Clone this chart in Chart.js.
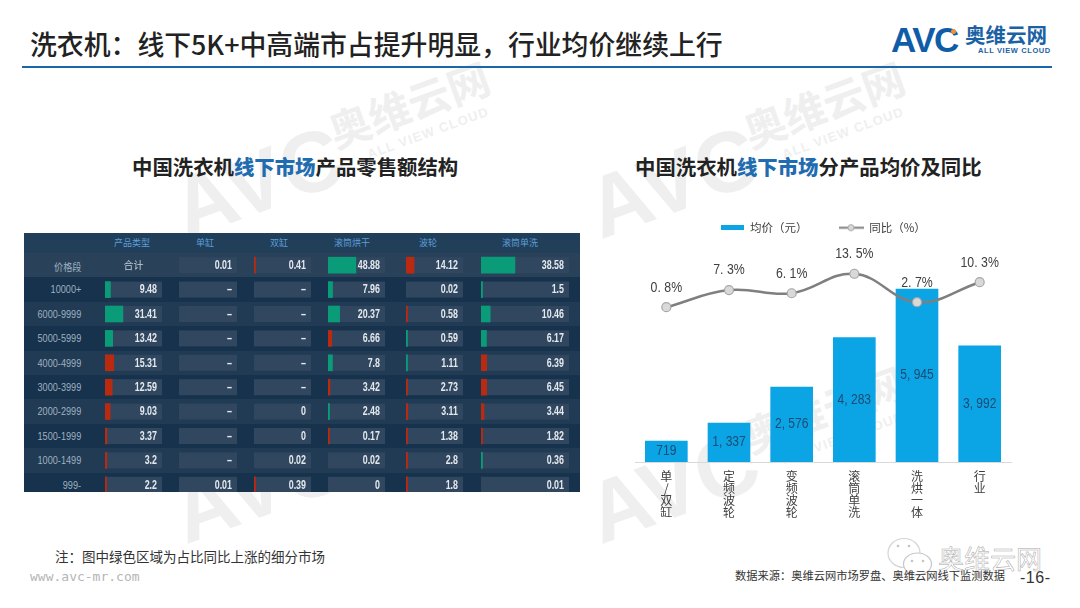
<!DOCTYPE html>
<html>
<head>
<meta charset="utf-8">
<script src="https://cdn.jsdelivr.net/npm/chart.js@4"></script>
<style>
    html, body { margin: 0; padding: 0; background: #fff; }
    body { width: 1080px; height: 608px; position: relative; overflow: hidden; font-family: "Noto Sans CJK SC", sans-serif; color: #222; }
    .abs { position: absolute; white-space: nowrap; line-height: 1; }
    .wm { position: absolute; width: 0; height: 0; transform: rotate(-20deg); transform-origin: 0 0; color: #efefef; }
    .wm div { position: absolute; white-space: nowrap; line-height: 1; }
    #table { position: absolute; left: 24px; top: 233px; width: 556px; height: 259px; overflow: hidden; background: #1b3650; filter: blur(0.35px); }
    #table canvas { position: absolute; }
    #right-chart { position: absolute; left: 620px; top: 190px; }
    b.blue { color: #1f6cb0; }
</style>
</head>
<body>
<div id="marks"></div>

<div class="abs" style="left:30px;top:31px;font-size:26.85px;font-weight:500;">洗衣机：线下5K+中高端市占提升明显，行业均价继续上行</div>
<div class="abs" style="left:22px;top:65.5px;width:1030px;height:2.5px;background:#1a66a8;"></div>

<!-- logo -->
<div class="abs" style="left:891px;top:20px;font:bold 35px 'Liberation Sans';letter-spacing:-1.5px;color:#0f5ca8;">AVC</div>
<div class="abs" style="left:951px;top:29px;width:5px;height:5px;border-radius:50%;background:#f0913a;"></div>
<div class="abs" style="left:965px;top:24px;font-size:20.5px;font-weight:700;color:#1b62a5;">奥维云网</div>
<div class="abs" style="left:978px;top:46px;font:bold 7.5px 'Liberation Sans';letter-spacing:0.6px;color:#1b62a5;">ALL VIEW CLOUD</div>

<div class="abs" style="left:132px;top:156px;font-size:20.4px;font-weight:700;">中国洗衣机<b class="blue">线下市场</b>产品零售额结构</div>
<div class="abs" style="left:635px;top:156px;font-size:20.4px;font-weight:700;">中国洗衣机<b class="blue">线下市场</b>分产品均价及同比</div>

<div id="table"></div>
<canvas id="right-chart" width="444" height="334"></canvas>

<div class="abs" style="left:55px;top:550px;font-size:13.5px;color:#333;">注：图中绿色区域为占比同比上涨的细分市场</div>
<div class="abs" style="left:30px;top:569px;font:13px 'DejaVu Sans Mono';color:#b5b5b5;">www.avc-mr.com</div>

<!-- wechat stamp -->
<svg class="abs" style="left:885px;top:535px;" width="52" height="44">
    <ellipse cx="19" cy="18" rx="16" ry="14.5" fill="#fff" stroke="#d4d4d4" stroke-width="1.2"/>
    <ellipse cx="32.5" cy="29" rx="14" ry="11" fill="#fff" stroke="#c8c8c8" stroke-width="1.2"/>
    <circle cx="13" cy="11" r="1.3" fill="#c4c4c4"/><circle cx="24" cy="11" r="1.3" fill="#c4c4c4"/>
    <circle cx="27" cy="26" r="1.3" fill="#c4c4c4"/><circle cx="38" cy="26" r="1.3" fill="#c4c4c4"/>
</svg>
<div class="abs" style="left:938px;top:545px;font-size:26px;color:#fff;-webkit-text-stroke:0.5px #aaa;">奥维云网</div>
<div class="abs" style="left:735px;top:570px;font-size:11.25px;color:#333;">数据来源：奥维云网市场罗盘、奥维云网线下监测数据</div>
<div class="abs" style="left:1020px;top:569px;font:16px 'Liberation Sans';letter-spacing:0.5px;color:#333;">-16-</div>

<script>
// left table
const priceBands = ['价格段', '10000+', '6000-9999', '5000-5999', '4000-4999', '3000-3999', '2000-2999', '1500-1999', '1000-1499', '999-'];
const productTypes = ['产品类型', '单缸', '双缸', '滚筒烘干', '波轮', '滚筒单洗'];

// null = "–" in the table
const totalValues = [null, 9.48, 31.41, 13.42, 15.31, 12.59, 9.03, 3.37, 3.2, 2.2];
const singleTubValues = [0.01, null, null, null, null, null, null, null, null, 0.01];
const twinTubValues = [0.41, null, null, null, null, null, 0, 0, 0.02, 0.39];
const washDryValues = [48.88, 7.96, 20.37, 6.66, 7.8, 3.42, 2.48, 0.17, 0.02, 0];
const pulsatorValues = [14.12, 0.02, 0.58, 0.59, 1.11, 2.73, 3.11, 1.38, 2.8, 1.8];
const drumWashValues = [38.58, 1.5, 10.46, 6.17, 6.39, 6.45, 3.44, 1.82, 0.36, 0.01];

// 1 = share up (green), -1 = share down (red), 0 = no visible bar
const totalTrend = [0, 1, 1, 1, -1, -1, -1, -1, -1, -1];
const singleTubTrend = [0, 0, 0, 0, 0, 0, 0, 0, 0, 0];
const twinTubTrend = [-1, 0, 0, 0, 0, 0, 0, 0, 0, -1];
const washDryTrend = [1, 1, 1, -1, 1, -1, 1, -1, 0, 0];
const pulsatorTrend = [-1, 0, -1, 1, 1, -1, -1, -1, -1, -1];
const drumWashTrend = [1, 1, 1, 1, -1, -1, -1, -1, 1, 0];

// right chart
const categories = [['单', '/', '双', '缸'], ['定', '频', '波', '轮'], ['变', '频', '波', '轮'], ['滚', '筒', '单', '洗'], ['洗', '烘', '一', '体'], ['行', '业']];
const avgPrice = [719, 1337, 2576, 4283, 5945, 3992];
const yoyGrowth = [0.8, 7.3, 6.1, 13.5, 2.7, 10.3];

Chart.defaults.animation = false;
Chart.defaults.responsive = false;

// watermarks, same stamp repeated over the slide
[[185, 226], [600, 226], [185, 531], [600, 531]].forEach(function(pos) {
    let el = document.createElement('div');
    el.className = 'wm';
    el.style.left = pos[0] + 'px';
    el.style.top = pos[1] + 'px';
    el.innerHTML = '<div style="left:-4px;top:-66px;font:bold 86px \'Liberation Sans\';">AVC</div>' +
        '<div style="left:168px;top:-60px;font-size:42px;font-weight:700;">奥维云网</div>' +
        '<div style="left:196px;top:-12px;font:bold 13px \'Liberation Sans\';letter-spacing:1.2px;">ALL VIEW CLOUD</div>';
    document.getElementById('marks').appendChild(el);
});

// table rows
const table = document.getElementById('table');
const headerHeight = 20;
const rowPitch = 24.4;
const headerCenters = [108, 181, 255, 328, 404, 496];

let header = document.createElement('div');
header.style.cssText = 'position:absolute;left:0;top:0;width:556px;height:' + headerHeight + 'px;background:#213f58;';
table.appendChild(header);

productTypes.forEach(function(name, i) {
    let el = document.createElement('div');
    el.className = 'abs';
    el.textContent = name;
    el.style.cssText = 'left:' + headerCenters[i] + 'px;top:5px;transform:translateX(-50%);font-size:9px;color:#5d9edb;';
    table.appendChild(el);
});

priceBands.forEach(function(name, i) {
    let band = document.createElement('div');
    band.style.cssText = 'position:absolute;left:0;width:556px;top:' + (headerHeight + i * rowPitch) + 'px;height:' + rowPitch + 'px;background:' +
        (i === 0 ? '#2a4259' : (i % 2 ? '#17324c' : '#213b54')) + ';';
    table.appendChild(band);

    let label = document.createElement('div');
    label.className = 'abs';
    label.textContent = name;
    label.style.cssText = 'right:' + (556 - 57) + 'px;top:' + (headerHeight + i * rowPitch + 6) + 'px;' +
        "font:10.5px 'Liberation Sans','Noto Sans CJK SC';color:#9fb1c0;transform:scaleX(0.87);transform-origin:100% 50%;";
    table.appendChild(label);
});

// every column is its own small horizontal bar chart, cell is the 0-100 track
const cellPlugin = {
    id: 'cellPlugin',
    beforeDatasetsDraw: function(chart) {
        const ctx = chart.ctx;
        const area = chart.chartArea;
        chart.data.labels.forEach(function(label, i) {
            if (chart.options.plugins.cellPlugin.head && i === 0) {
                return;
            }
            const y = chart.scales.y.getPixelForValue(i);
            ctx.fillStyle = '#30475f';
            ctx.fillRect(area.left, y - 8, area.right - area.left, 16);
        });
    },
    afterDatasetsDraw: function(chart) {
        const ctx = chart.ctx;
        const values = chart.data.datasets[0].data;
        const head = chart.options.plugins.cellPlugin.head;
        const cellFont = "bold 12px 'Liberation Sans'";
        ctx.save();
        ctx.font = cellFont;
        ctx.fillStyle = '#e4e9ee';
        ctx.textBaseline = 'middle';
        values.forEach(function(v, i) {
            const y = chart.scales.y.getPixelForValue(i);
            if (head && i === 0) {
                ctx.textAlign = 'center';
                ctx.font = "10px 'Noto Sans CJK SC'";
                ctx.fillStyle = '#c4ced7';
                ctx.fillText(head, (chart.chartArea.left + chart.chartArea.right) / 2, y);
                ctx.font = cellFont;
                ctx.fillStyle = '#e4e9ee';
                return;
            }
            const text = v === null ? '–' : String(v);
            ctx.textAlign = 'right';
            // squeeze the digits, the source font is narrow
            ctx.fillText(text, chart.chartArea.right - 5, y + 0.5, ctx.measureText(text).width * 0.74);
        });
        ctx.restore();
    }
};

function addColumn(left, width, values, trend, head) {
    let canvas = document.createElement('canvas');
    canvas.width = width;
    canvas.height = 244;
    canvas.style.left = (left - 24) + 'px';
    canvas.style.top = headerHeight + 'px';
    table.appendChild(canvas);
    new Chart(canvas, {
        type: 'bar',
        plugins: [cellPlugin],
        data: {
            labels: priceBands,
            datasets: [{
                data: values,
                backgroundColor: trend.map(t => t > 0 ? '#0a9c78' : (t < 0 ? '#b92a10' : 'rgba(0,0,0,0)')),
                barThickness: 16,
                minBarLength: 1.5,
                borderWidth: 0
            }]
        },
        options: {
            indexAxis: 'y',
            layout: { padding: 0 },
            plugins: { legend: { display: false }, tooltip: { enabled: false }, cellPlugin: { head: head } },
            scales: {
                x: { display: false, min: 0, max: 100 },
                y: { display: false }
            }
        }
    });
}

addColumn(105, 57, totalValues, totalTrend, '合计');
addColumn(179, 58, singleTubValues, singleTubTrend);
addColumn(254, 57, twinTubValues, twinTubTrend);
addColumn(328, 57, washDryValues, washDryTrend);
addColumn(406, 57, pulsatorValues, pulsatorTrend);
addColumn(481, 88, drumWashValues, drumWashTrend);

// legend swatches
function swatch(w, h, draw) {
    let c = document.createElement('canvas');
    c.width = w;
    c.height = h;
    draw(c.getContext('2d'));
    return c;
}
const barSwatch = swatch(23, 5, function(ctx) {
    ctx.fillStyle = '#0ba5e6';
    ctx.fillRect(0, 0, 23, 5);
});
const lineSwatch = swatch(25, 9, function(ctx) {
    ctx.strokeStyle = '#7f7f7f';
    ctx.lineWidth = 2;
    ctx.beginPath();
    ctx.moveTo(0, 4.5);
    ctx.lineTo(25, 4.5);
    ctx.stroke();
    ctx.beginPath();
    ctx.arc(12, 4.5, 3, 0, Math.PI * 2);
    ctx.fillStyle = '#d9d9d9';
    ctx.fill();
    ctx.strokeStyle = '#a6a6a6';
    ctx.lineWidth = 1;
    ctx.stroke();
});

// value labels on bars and line points
const valueLabels = {
    id: 'valueLabels',
    afterDatasetsDraw: function(chart) {
        const ctx = chart.ctx;
        ctx.save();
        ctx.textAlign = 'center';
        ctx.textBaseline = 'middle';
        ctx.font = "14px 'Liberation Sans', sans-serif";
        ctx.fillStyle = '#1d4a73';
        chart.getDatasetMeta(1).data.forEach(function(bar, i) {
            const text = avgPrice[i].toLocaleString('en-US').replace(',', ', ');
            ctx.fillText(text, bar.x, (bar.y + bar.base) / 2, ctx.measureText(text).width * 0.86);
        });
        ctx.fillStyle = '#404040';
        chart.getDatasetMeta(0).data.forEach(function(pt, i) {
            const text = yoyGrowth[i].toFixed(1).replace('.', '. ') + '%';
            ctx.fillText(text, pt.x, pt.y - 19.5, ctx.measureText(text).width * 0.88);
        });
        ctx.restore();
    }
};

new Chart(document.getElementById('right-chart'), {
    type: 'bar',
    plugins: [valueLabels],
    data: {
        labels: categories,
        datasets: [
            {
                type: 'line',
                label: '同比（%）',
                data: yoyGrowth,
                yAxisID: 'y1',
                borderColor: '#7f7f7f',
                borderWidth: 2.5,
                tension: 0.4,
                clip: false,
                pointRadius: 4.5,
                pointBackgroundColor: '#d9d9d9',
                pointBorderColor: '#a6a6a6',
                pointBorderWidth: 1.2,
                order: 1
            },
            {
                label: '均价（元）',
                data: avgPrice,
                yAxisID: 'y',
                backgroundColor: '#0ba5e6',
                barThickness: 42,
                order: 2
            }
        ]
    },
    options: {
        layout: { padding: { left: 15, right: 53, bottom: 0 } },
        plugins: {
            tooltip: { enabled: false },
            legend: {
                position: 'top',
                labels: {
                    usePointStyle: true,
                    pointStyleWidth: 24,
                    padding: 32,
                    color: '#404040',
                    font: { family: "'Noto Sans CJK SC'", size: 11.5 },
                    generateLabels: function(chart) {
                        return [
                            { text: '均价（元）', pointStyle: barSwatch, datasetIndex: 1, fontColor: '#404040', lineWidth: 0 },
                            { text: '同比（%）', pointStyle: lineSwatch, datasetIndex: 0, fontColor: '#404040', lineWidth: 0 }
                        ];
                    }
                }
            }
        },
        scales: {
            x: {
                grid: { display: false },
                border: { color: '#d9d9d9' },
                ticks: {
                    maxRotation: 0,
                    autoSkip: false,
                    padding: 0,
                    color: '#404040',
                    font: { family: "'Noto Sans CJK SC'", size: 12, lineHeight: 1 }
                },
                afterFit: function(scale) { scale.height = 62; }
            },
            y: { display: false, min: 0, max: 7515 },
            y1: { display: false, min: -58, max: 25 }
        }
    }
});
</script>
</body>
</html>
